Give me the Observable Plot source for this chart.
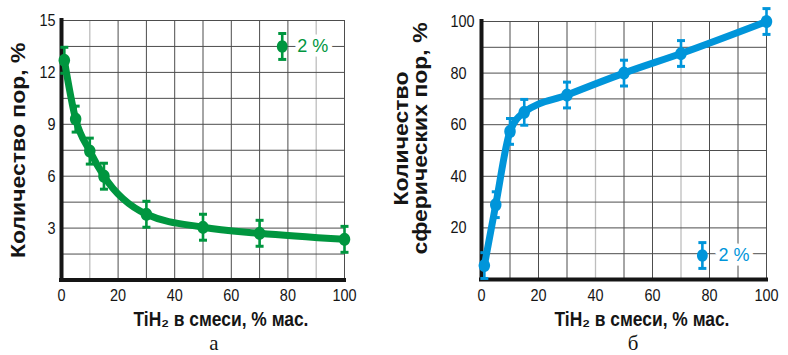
<!DOCTYPE html>
<html><head><meta charset="utf-8">
<script src="https://cdn.jsdelivr.net/npm/d3@7"></script>
<script src="https://cdn.jsdelivr.net/npm/@observablehq/plot@0.6"></script>
<style>
html,body{margin:0;padding:0;background:#fff;overflow:hidden}
#wrap{position:relative;width:788px;height:355px;background:#fff}
.panel{position:absolute;top:0}
.cap{position:absolute;width:40px;text-align:center;font-family:"Liberation Serif","Times New Roman",serif;font-size:22px;line-height:14px;color:#151515;transform:scaleX(0.95)}
</style></head><body><div id="wrap"></div>
<script>
// ---- data: panel a (total pores) ----
const tih2A = [1, 5, 10, 15, 30, 50, 70, 100];
const poresA = [12.7, 9.3, 7.45, 6.0, 3.8, 3.05, 2.7, 2.35];
const errA = [0.75, 0.75, 0.75, 0.75, 0.75, 0.75, 0.75, 0.75];
// ---- data: panel b (spherical pores) ----
const tih2B = [1, 5, 10, 15, 30, 50, 70, 100];
const poresB = [5.4, 29, 57.4, 64.8, 71.5, 80, 87.6, 100];
const errB = [5, 5, 5, 5, 5, 5, 5, 5];
// ---- ticks / grid ----
const xTicks = [0, 20, 40, 60, 80, 100];
const yTicksA = [3, 6, 9, 12, 15];
const yTicksB = [20, 40, 60, 80, 100];
const xGridDarkA = [20, 30, 40, 50, 60, 70, 80, 100];
const xGridLightA = [10, 90];
const xGridDarkB = [10, 20, 30, 50, 60, 80, 90, 100];
const xGridLightB = [40, 70];
const yGridA = [1.5, 3, 4.5, 6, 7.5, 9, 10.5, 12, 13.5, 15];
const yGridB = [10, 20, 30, 40, 50, 60, 70, 80, 90, 100];
// ---- legend ----
const legendA = [{x: 78, y: 13.5, label: "2 %"}];
const legendB = [{x: 77.5, y: 9.3, label: "2 %"}];
// ---- texts ----
const xTitle = "TiH₂ в смеси, % мас.";
const yTitleA = "Количество пор, %";
const yTitleB = "Количество\nсферических пор, %";
const captions = ["а", "б"];

const SANS = '"Liberation Sans",Arial,sans-serif';

const capSymbol = {
  draw(context, size) {
    const w = Math.sqrt(size / Math.PI);
    context.moveTo(-w, 0);
    context.lineTo(w, 0);
  }
};
function ellipseSymbol(k) {
  return {
    draw(ctx, size) {
      const r = Math.sqrt(size / Math.PI), rx = r * k, ry = r, c = 0.5523;
      ctx.moveTo(rx, 0);
      ctx.bezierCurveTo(rx, c * ry, c * rx, ry, 0, ry);
      ctx.bezierCurveTo(-c * rx, ry, -rx, c * ry, -rx, 0);
      ctx.bezierCurveTo(-rx, -c * ry, -c * rx, -ry, 0, -ry);
      ctx.bezierCurveTo(c * rx, -ry, rx, -c * ry, rx, 0);
      ctx.closePath();
    }
  };
}
const dotSymbol = ellipseSymbol(0.87);

function squeeze(el, sx, sy) {
  const tr = el.getAttribute("transform") || "";
  el.setAttribute("transform", (tr + ` scale(${sx},${sy})`).trim());
}

function panel(cfg) {
  const data = cfg.xs.map((x, i) => ({x, y: cfg.ys[i], e: cfg.es[i]}));
  const color = cfg.color;
  const e0 = cfg.es[0];
  const svg = Plot.plot({
    width: cfg.width,
    height: 330,
    marginLeft: cfg.ml, marginRight: cfg.mr, marginTop: cfg.mt, marginBottom: cfg.mb,
    x: {domain: [0, 100]},
    y: {domain: cfg.yDomain},
    style: {fontFamily: SANS, fontSize: "17px", color: "#151515", background: "white", overflow: "visible"},
    marks: [
      Plot.ruleX(cfg.xGridLight, {stroke: "#bdbdbd", strokeWidth: 1.3}),
      Plot.ruleX(cfg.xGridDark, {stroke: "#4d4d4d", strokeWidth: 1}),
      Plot.ruleY(cfg.yGrid, {stroke: "#4d4d4d", strokeWidth: 1}),
      Plot.ruleX([0], {stroke: "#151515", strokeWidth: 4, strokeLinecap: "square"}),
      Plot.ruleY([0], {stroke: "#151515", strokeWidth: 4, strokeLinecap: "square"}),
      Plot.axisX({ticks: xTicks, tickSize: 0, tickPadding: 9, label: null, fontSize: 17}),
      Plot.axisY({ticks: cfg.yTicks, tickSize: 0, tickPadding: cfg.yPad, textAnchor: cfg.yAnchor, label: null, fontSize: 17}),
      Plot.line(data, {x: "x", y: "y", curve: "monotone-x", stroke: color, strokeWidth: 7, strokeLinejoin: "round", strokeLinecap: "round"}),
      Plot.ruleX(data, {x: "x", y1: d => d.y - d.e, y2: d => d.y + d.e, stroke: color, strokeWidth: 2.6}),
      Plot.dot(data, {x: "x", y: d => d.y - d.e, symbol: capSymbol, r: 4, stroke: color, strokeWidth: 3}),
      Plot.dot(data, {x: "x", y: d => d.y + d.e, symbol: capSymbol, r: 4, stroke: color, strokeWidth: 3}),
      Plot.dot(data, {x: "x", y: "y", symbol: dotSymbol, r: 6.6, fill: color}),
      // legend
      Plot.text(cfg.legend, {x: "x", y: "y", text: "label", dx: cfg.legDx, textAnchor: "start", fill: color,
        stroke: "white", strokeWidth: 9, paintOrder: "stroke", strokeLinejoin: "round",
        fontFamily: SANS, fontSize: 18}),
      Plot.ruleX(cfg.legend, {x: "x", y1: d => d.y - e0, y2: d => d.y + e0, stroke: color, strokeWidth: 2.6}),
      Plot.dot(cfg.legend, {x: "x", y: d => d.y - e0, symbol: capSymbol, r: 4, stroke: color, strokeWidth: 3}),
      Plot.dot(cfg.legend, {x: "x", y: d => d.y + e0, symbol: capSymbol, r: 4, stroke: color, strokeWidth: 3}),
      Plot.dot(cfg.legend, {x: "x", y: "y", symbol: dotSymbol, r: 6.2, fill: color}),
      // axis titles
      Plot.text([xTitle], {frameAnchor: "bottom", dx: cfg.xtDx, dy: 40, text: d => d, fontFamily: SANS,
        fontWeight: "bold", fontSize: 20, fill: "#151515", lineAnchor: "middle", textAnchor: "middle"}),
      Plot.text([cfg.yTitle], {frameAnchor: "left", dx: cfg.ytDx, dy: cfg.ytDy, rotate: -90, text: d => d,
        fontFamily: SANS, fontWeight: "bold", fontSize: 23, lineHeight: 0.91, fill: "#151515",
        lineAnchor: "middle", textAnchor: "middle"})
    ]
  });
  // horizontally condensed lettering, as in the reference
  d3.select(svg).selectAll("text").each(function() {
    const g = this.parentNode;
    const label = g && g.getAttribute ? (g.getAttribute("aria-label") || "") : "";
    const tr = this.getAttribute("transform") || "";
    if (label.includes("tick label")) squeeze(this, 0.85, 1);
    else if (tr.includes("rotate")) squeeze(this, 1, 0.88);
    else if (this.textContent === xTitle) squeeze(this, 0.87, 1);
  });
  return svg;
}

const wrap = document.getElementById("wrap");

const pa = panel({
  xs: tih2A, ys: poresA, es: errA, color: "#00963f", width: 370,
  ml: 61, mr: 26, mt: 20, mb: 50.5, yDomain: [0, 15],
  yTicks: yTicksA, yPad: 6, yAnchor: "end",
  xGridDark: xGridDarkA, xGridLight: xGridLightA, yGrid: yGridA,
  legend: legendA, legDx: 15, xtDx: 18, yTitle: yTitleA, ytDx: -42, ytDy: 0
});
pa.classList.add("panel");
pa.style.left = "0px";
wrap.appendChild(pa);

const pb = panel({
  xs: tih2B, ys: poresB, es: errB, color: "#0095da", width: 398,
  ml: 91, mr: 22, mt: 21, mb: 51, yDomain: [0, 100],
  yTicks: yTicksB, yPad: 31, yAnchor: "start",
  xGridDark: xGridDarkB, xGridLight: xGridLightB, yGrid: yGridB,
  legend: legendB, legDx: 16, xtDx: 18, yTitle: yTitleB, ytDx: -70, ytDy: -12
});
pb.classList.add("panel");
pb.style.left = "390px";
wrap.appendChild(pb);

const capX = [214, 633];
captions.forEach((c, i) => {
  const d = document.createElement("div");
  d.className = "cap";
  d.textContent = c;
  d.style.left = (capX[i] - 20) + "px";
  d.style.top = "335.6px";
  wrap.appendChild(d);
});
</script></body></html>
